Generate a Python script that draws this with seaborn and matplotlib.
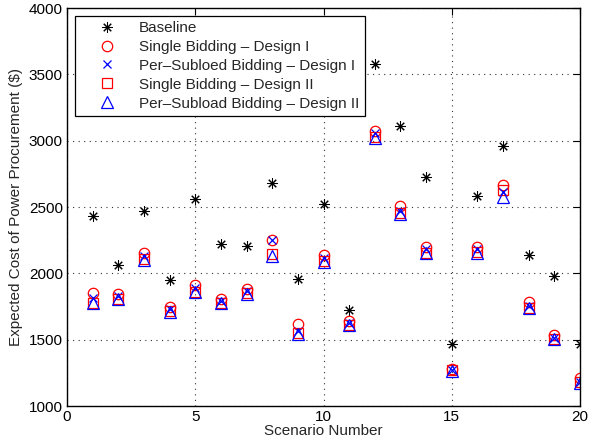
import matplotlib
matplotlib.use("Agg")
import matplotlib.pyplot as plt
import seaborn as sns
import numpy as np

scenarios = list(range(1, 21))
baseline = [2430, 2065, 2470, 1950, 2560, 2218, 2205, 2678, 1955, 2522,
            1724, 3578, 3109, 2727, 1465, 2581, 2957, 2138, 1980, 1470]
single_d1 = [1849, 1845, 2155, 1750, 1912, 1806, 1880, 2250, 1615, 2135,
             1643, 3070, 2505, 2200, 1282, 2200, 2664, 1782, 1533, 1214]
persub_d1 = [1815, 1830, 2130, 1730, 1887, 1794, 1867, 2248, 1568, 2113,
             1623, 3055, 2470, 2180, 1270, 2180, 2614, 1754, 1513, 1181]
single_d2 = [1775, 1808, 2108, 1713, 1860, 1778, 1848, 2146, 1548, 2090,
             1612, 3025, 2455, 2155, 1268, 2160, 2626, 1740, 1508, 1178]
persub_d2 = [1779, 1804, 2103, 1711, 1857, 1774, 1844, 2133, 1543, 2083,
             1610, 3018, 2450, 2150, 1265, 2155, 2576, 1737, 1507, 1175]

labels = ["Baseline",
          "Single Bidding \u2013 Design I",
          "Per\u2013Subloed Bidding \u2013 Design I",
          "Single Bidding \u2013 Design II",
          "Per\u2013Subload Bidding \u2013 Design II"]
xticks = [0, 5, 10, 15, 20]
yticks = [1000, 1500, 2000, 2500, 3000, 3500, 4000]

sns.set_style("white")
plt.rcParams['font.family'] = ['Liberation Sans', 'DejaVu Sans']

fig = plt.figure(figsize=(5.89, 4.48), dpi=100)
ax = fig.add_axes([67/589, 1-406/448, (580-67)/589, (406-8)/448])

series = [
    (baseline, dict(marker=(8, 2, 0), color='black', markeredgecolor='black', markersize=7.5, markeredgewidth=0.75)),
    (single_d1, dict(marker='o', color='red', markerfacecolor='none', markeredgecolor='red', markersize=7.5, markeredgewidth=0.9)),
    (persub_d1, dict(marker='x', color='blue', markeredgecolor='blue', markersize=6, markeredgewidth=0.9)),
    (single_d2, dict(marker='s', color='red', markerfacecolor='none', markeredgecolor='red', markersize=6.5, markeredgewidth=0.9)),
    (persub_d2, dict(marker='^', color='blue', markerfacecolor='none', markeredgecolor='blue', markersize=8, markeredgewidth=0.9)),
]
for (vals, kw), lab in zip(series, labels):
    sns.lineplot(x=scenarios, y=vals, ax=ax, linestyle='', label=lab, **kw)

ax.set_xlim(0, 20)
ax.set_ylim(1000, 4000)
ax.set_xticks(xticks)
ax.set_yticks(yticks)
ax.tick_params(direction='in', top=True, right=True, length=5, width=0.8,
               labelsize=11, colors='black', pad=3)
ax.grid(True, linestyle=(0, (1, 4)), color='#333333', linewidth=0.8)
for s in ax.spines.values():
    s.set_color('black')
    s.set_linewidth(1.0)
ax.set_xlabel("Scenario Number", fontsize=11, labelpad=0)
ax.set_ylabel("Expected Cost of Power Procurement (\\$)", fontsize=11, labelpad=4)

leg = ax.legend(loc='upper left', fontsize=11, frameon=True, fancybox=False,
                edgecolor='black', framealpha=1, handlelength=3.5,
                handletextpad=0.35, labelspacing=0.32, borderpad=0.35,
                borderaxespad=0.5)
leg.get_frame().set_linewidth(0.9)

fig.savefig("out.png", dpi=100, facecolor='white')
